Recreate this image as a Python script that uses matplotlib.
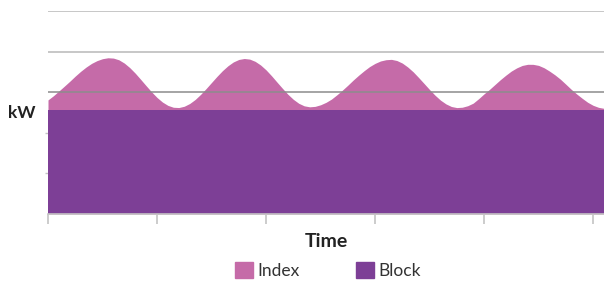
import numpy as np
import matplotlib
matplotlib.use("Agg")
import matplotlib.pyplot as plt
from matplotlib.patches import Patch

# data (time in tick units, power in kW grid units)
time = [round(0.05 * i, 2) for i in range(103)]
index_kw = [
    0.25, 0.353, 0.47, 0.589, 0.71, 0.837, 0.955, 1.06, 1.15, 1.218,
    1.265, 1.288, 1.28, 1.238, 1.157, 1.045, 0.909, 0.756, 0.60, 0.448,
    0.31, 0.197, 0.115, 0.069, 0.062, 0.094, 0.162, 0.261, 0.387, 0.529,
    0.68, 0.83, 0.97, 1.09, 1.185, 1.246, 1.27, 1.255, 1.20, 1.11,
    0.99, 0.846, 0.69, 0.537, 0.39, 0.265, 0.167, 0.104, 0.08, 0.091,
    0.13, 0.19, 0.27, 0.376, 0.49, 0.612, 0.74, 0.859, 0.97, 1.071,
    1.15, 1.209, 1.24, 1.249, 1.22, 1.157, 1.06, 0.941, 0.80, 0.653,
    0.505, 0.366, 0.245, 0.152, 0.088, 0.061, 0.07, 0.107, 0.17, 0.28,
    0.40, 0.51, 0.63, 0.75, 0.86, 0.961, 1.04, 1.099, 1.127, 1.126,
    1.10, 1.042, 0.96, 0.867, 0.76, 0.636, 0.51, 0.395, 0.29, 0.192,
    0.117, 0.067, 0.042,
]
block_kw = [2.56] * len(time)
grid_levels = [1, 2, 3, 4, 5]
grid_colors = ["#b8b8b8", "#b8b8b8", "#8c8c8c", "#b8b8b8", "#b8b8b8"]
x_ticks = [0, 1, 2, 3, 4, 5]

pink = "#c56ba8"
purple = "#7d3f96"

plt.rcParams["font.family"] = ["Lato", "DejaVu Sans"]

fig = plt.figure(figsize=(6.04, 2.82), dpi=100)
ax = fig.add_axes([48 / 604, 1 - 214 / 282, 556 / 604, 203 / 282])

total = np.array(block_kw) + np.array(index_kw)
ax.fill_between(time, 0, total, color=pink, linewidth=0, zorder=1)
for lvl, c in zip(grid_levels, grid_colors):
    ax.axhline(lvl, color=c, linewidth=1.1, zorder=2)
ax.fill_between(time, 0, block_kw, color=purple, linewidth=0, zorder=3)

ax.set_xlim(0, 5.1)
ax.set_ylim(0, 5)
ax.set_xticks(x_ticks)
ax.set_xticklabels([])
ax.set_yticks(grid_levels[:2])
ax.set_yticklabels([])
ax.tick_params(axis="x", length=7, width=1.2, color="#c4c4c4")
ax.tick_params(axis="y", length=2, width=1, color="#c4c4c4")
for s in ["top", "right", "left"]:
    ax.spines[s].set_visible(False)
ax.spines["bottom"].set_color("#c4c4c4")
ax.spines["bottom"].set_linewidth(1.2)
ax.spines["bottom"].set_zorder(4)

ax.set_xlabel("Time", fontsize=14, fontweight="bold", color="#222222", labelpad=3.5)
ax.set_ylabel("kW", fontsize=12.5, fontweight="bold", color="#222222",
              rotation=0, ha="center", va="center")
ax.yaxis.set_label_coords(-0.048, 0.5)

handles = [Patch(color=pink, label="Index"), Patch(color=purple, label="Block")]
fig.legend(handles=handles, loc="lower center", bbox_to_anchor=(0.543, -0.045),
           ncol=2, frameon=False, fontsize=12.5, handlelength=1.0, handleheight=1.0,
           handletextpad=0.25, columnspacing=3.3, labelcolor="#333333")

fig.savefig("out.png", dpi=100)
